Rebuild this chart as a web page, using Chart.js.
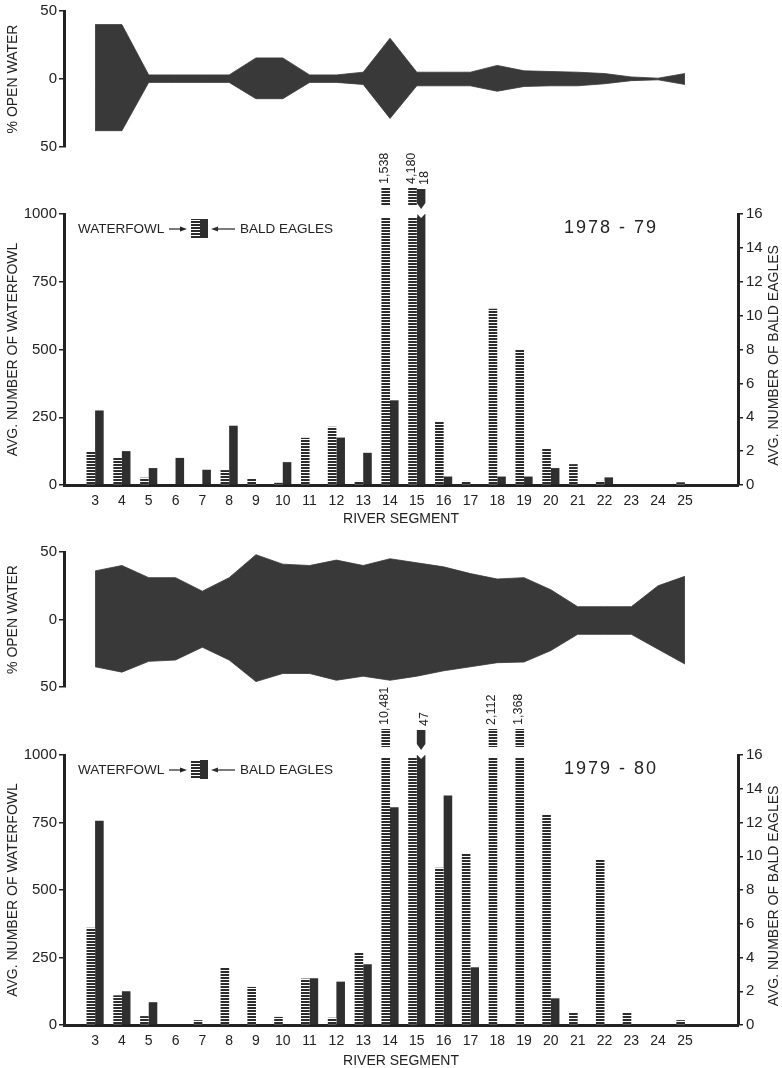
<!DOCTYPE html>
<html>
<head>
<meta charset="utf-8">
<title>Open water, waterfowl and bald eagles by river segment</title>
<script src="https://cdn.jsdelivr.net/npm/chart.js@4.4.1/dist/chart.umd.min.js"></script>
<style>
  html, body { margin: 0; padding: 0; background: #ffffff; }
  body { width: 782px; height: 1068px; position: relative; overflow: hidden; }
  canvas { position: absolute; left: 0; }
</style>
</head>
<body>
<canvas id="area7879" width="782" height="160" style="top:0px"></canvas>
<canvas id="bars7879" width="782" height="400" style="top:140px"></canvas>
<canvas id="area7980" width="782" height="160" style="top:540px"></canvas>
<canvas id="bars7980" width="782" height="388" style="top:680px"></canvas>
<script>
// ---------------- data ----------------
const segments = [3, 4, 5, 6, 7, 8, 9, 10, 11, 12, 13, 14, 15, 16, 17, 18, 19, 20, 21, 22, 23, 24, 25];

// 1978-79
const openUpper7879 = [40, 40, 3, 3, 3, 3, 15.5, 15.5, 3, 3, 5, 30, 5, 5, 5, 10, 6, 5.5, 5, 4, 1.5, 0.6, 4];
const openLower7879 = [38, 38, 2.5, 2.5, 2.5, 2.5, 14.5, 14.5, 2.5, 2.5, 4, 29, 5, 5, 5, 9, 5.5, 5, 5, 3.5, 1.2, 0.6, 4];
const waterfowl7879 = [125, 102, 27, 0, 0, 55, 25, 8, 174, 215, 15, 1538, 4180, 235, 15, 650, 500, 135, 77, 15, 0, 0, 10];
const eagles7879 = [4.4, 2.0, 1.0, 1.6, 0.9, 3.5, 0, 1.35, 0, 2.8, 1.9, 5.0, 18, 0.5, 0, 0.5, 0.5, 1.0, 0, 0.45, 0, 0, 0];

// 1979-80
const openUpper7980 = [36, 40, 31, 31, 21, 31, 48, 41, 40, 44, 40, 45, 42, 39, 34, 30, 31, 22, 9.5, 9.5, 9.5, 25, 32];
const openLower7980 = [35, 39, 31, 30, 20.5, 30, 46, 40, 40, 45, 42, 45, 42, 38, 35, 32, 31.5, 23, 11, 11, 11, 22, 33];
const waterfowl7980 = [360, 110, 33, 0, 18, 212, 141, 30, 172, 27, 270, 10481, 990, 582, 637, 2112, 1368, 778, 47, 613, 45, 0, 18];
const eagles7980 = [12.1, 2.0, 1.35, 0, 0, 0, 0, 0, 2.77, 2.57, 3.6, 12.9, 47, 13.6, 3.42, 0, 0, 1.58, 0, 0, 0, 0, 0];

// tick values
const openWaterTicks = [-50, 0, 50];
const waterfowlTicks = [0, 250, 500, 750, 1000];
const eagleTicks = [0, 2, 4, 6, 8, 10, 12, 14, 16];

// ---------------- style ----------------
const FONT = '"Liberation Sans", Arimo, Arial, Helvetica, sans-serif';
const INK = '#222222';
const BAR = '#2f2f2f';
const AREA = '#393939';
const WF_MAX = 1000;
const EG_MAX = 16;
const X_MIN = 1.84;
const X_MAX = 26.98;

function makeHatch() {
  const c = document.createElement('canvas');
  c.width = 4; c.height = 3;
  const g = c.getContext('2d');
  g.fillStyle = '#ffffff'; g.fillRect(0, 0, 4, 3);
  g.fillStyle = '#2c2c2c'; g.fillRect(0, 0, 4, 2);
  return g.createPattern(c, 'repeat');
}
const HATCH = makeHatch();

function yAxisTitle(text) {
  return { display: true, text: text, color: INK, font: { family: FONT, size: 14 }, padding: { top: 5, bottom: 0 } };
}

// -------- plugins: broken bars + legend / year / right title --------
const breakPlugin = {
  id: 'breaks',
  afterDatasetsDraw(chart) {
    const { ctx, chartArea } = chart;
    const top = chartArea.top;
    chart.data.datasets.forEach((ds, di) => {
      if (!ds.rawValues) return;
      const meta = chart.getDatasetMeta(di);
      const scale = chart.scales[ds.yAxisID];
      meta.data.forEach((bar, i) => {
        const raw = ds.rawValues[i];
        if (raw <= scale.max) return;
        const w = bar.width;
        const x0 = bar.x - w / 2;
        ctx.save();
        let pieceTop, labelX;
        if (ds.kind === 'waterfowl') {
          ctx.fillStyle = '#ffffff';
          ctx.fillRect(x0 - 0.5, top - 1, w + 1, 4);
          pieceTop = top - 26;
          ctx.fillStyle = HATCH;
          ctx.fillRect(x0, pieceTop, w, 18);
          labelX = bar.x - 1;
        } else {
          ctx.fillStyle = '#ffffff';
          ctx.beginPath();
          ctx.moveTo(x0 - 0.5, top - 1);
          ctx.lineTo(bar.x, top + 4);
          ctx.lineTo(x0 + w + 0.5, top - 1);
          ctx.closePath();
          ctx.fill();
          pieceTop = top - 25;
          ctx.fillStyle = BAR;
          ctx.beginPath();
          ctx.moveTo(x0, pieceTop);
          ctx.lineTo(x0 + w, pieceTop);
          ctx.lineTo(x0 + w, top - 11);
          ctx.lineTo(bar.x, top - 5);
          ctx.lineTo(x0, top - 11);
          ctx.closePath();
          ctx.fill();
          labelX = bar.x + 3;
        }
        ctx.translate(labelX, pieceTop - 4);
        ctx.rotate(-Math.PI / 2);
        ctx.font = '12.5px ' + FONT;
        ctx.fillStyle = INK;
        ctx.textAlign = 'left';
        ctx.textBaseline = 'middle';
        ctx.fillText(raw.toLocaleString('en-US'), 0, 0);
        ctx.restore();
      });
    });
  }
};

const annotPlugin = {
  id: 'annot',
  afterDraw(chart, args, opts) {
    if (!opts || !opts.year) return;
    const { ctx, chartArea: ca } = chart;
    ctx.save();
    ctx.fillStyle = INK;
    ctx.strokeStyle = INK;
    ctx.textBaseline = 'middle';
    ctx.textAlign = 'left';
    const y = ca.top + 15;
    ctx.font = '13.5px ' + FONT;
    ctx.fillText('WATERFOWL', ca.left + 14, y);
    // arrow pointing right
    ctx.lineWidth = 1.2;
    ctx.beginPath(); ctx.moveTo(ca.left + 105, y); ctx.lineTo(ca.left + 118, y); ctx.stroke();
    ctx.beginPath(); ctx.moveTo(ca.left + 123, y); ctx.lineTo(ca.left + 116, y - 2.5); ctx.lineTo(ca.left + 116, y + 2.5); ctx.closePath(); ctx.fill();
    // legend icon
    ctx.fillStyle = HATCH;
    ctx.fillRect(ca.left + 127, ca.top + 5, 9, 19);
    ctx.fillStyle = BAR;
    ctx.fillRect(ca.left + 136, ca.top + 5, 8, 19);
    // arrow pointing left
    ctx.beginPath(); ctx.moveTo(ca.left + 152, y); ctx.lineTo(ca.left + 171, y); ctx.stroke();
    ctx.beginPath(); ctx.moveTo(ca.left + 147, y); ctx.lineTo(ca.left + 154, y - 2.5); ctx.lineTo(ca.left + 154, y + 2.5); ctx.closePath(); ctx.fill();
    ctx.fillStyle = INK;
    ctx.fillText('BALD EAGLES', ca.left + 176, y);
    // year
    ctx.font = '18px ' + FONT;
    ctx.letterSpacing = '2px';
    ctx.fillText(opts.year, ca.left + 500, ca.top + 14);
    ctx.letterSpacing = '0px';
    // right axis title (reads bottom to top)
    ctx.font = '14px ' + FONT;
    ctx.translate(774, (ca.top + ca.bottom) / 2 + 6);
    ctx.rotate(-Math.PI / 2);
    ctx.textAlign = 'center';
    ctx.fillText(opts.rightTitle, 0, 0);
    ctx.restore();
  }
};

// ---------------- builders ----------------
function areaChart(id, upper, lower, padTop, padBottom) {
  return new Chart(document.getElementById(id), {
    type: 'line',
    data: {
      labels: segments,
      datasets: [
        { label: '% open water', data: upper, fill: '+1', backgroundColor: AREA, borderColor: AREA,
          borderWidth: 0.8, pointRadius: 0, tension: 0 },
        { label: '% open water (lower)', data: lower.map(v => -v), fill: false, borderColor: AREA,
          borderWidth: 0.8, pointRadius: 0, tension: 0 }
      ]
    },
    options: {
      responsive: false, animation: false, events: [],
      layout: { padding: { top: padTop, bottom: padBottom, left: 0, right: 782 - 738 } },
      plugins: { legend: { display: false }, tooltip: { enabled: false } },
      scales: {
        x: { type: 'linear', min: X_MIN, max: X_MAX, display: false },
        y: {
          min: -50, max: 50,
          afterFit: s => { s.width = 64; },
          afterBuildTicks: s => { s.ticks = openWaterTicks.map(v => ({ value: v })); },
          ticks: { callback: v => String(Math.abs(v)), color: INK, font: { family: FONT, size: 15 }, padding: 2 },
          grid: { drawOnChartArea: false, drawTicks: true, tickLength: 5, color: INK, lineWidth: 1.5 },
          border: { display: true, color: INK, width: 3 },
          title: yAxisTitle('% OPEN WATER')
        }
      }
    }
  });
}

function barChart(id, wf, eg, cfg) {
  return new Chart(document.getElementById(id), {
    type: 'bar',
    data: {
      labels: segments,
      datasets: [
        { label: 'WATERFOWL', data: wf.map(v => Math.min(v, WF_MAX)), rawValues: wf, kind: 'waterfowl',
          yAxisID: 'y', backgroundColor: HATCH, borderWidth: 0, categoryPercentage: 0.64, barPercentage: 1 },
        { label: 'BALD EAGLES', data: eg.map(v => Math.min(v, EG_MAX)), rawValues: eg, kind: 'eagles',
          yAxisID: 'y2', backgroundColor: BAR, borderWidth: 0, categoryPercentage: 0.64, barPercentage: 1 }
      ]
    },
    plugins: [breakPlugin, annotPlugin],
    options: {
      responsive: false, animation: false, events: [],
      layout: { padding: { top: cfg.padTop, bottom: 0, left: 0, right: 0 } },
      plugins: {
        legend: { display: false }, tooltip: { enabled: false },
        annot: { year: cfg.year, rightTitle: 'AVG. NUMBER OF BALD EAGLES' }
      },
      scales: {
        x: {
          type: 'linear', min: X_MIN, max: X_MAX, offset: false,
          afterFit: s => { s.height = cfg.xHeight; },
          afterBuildTicks: s => { s.ticks = segments.map(v => ({ value: v })); },
          ticks: { autoSkip: false, maxRotation: 0, padding: 8, color: INK, font: { family: FONT, size: 14 },
                   callback: v => String(v) },
          grid: { display: false, drawTicks: false, offset: false },
          border: { display: true, color: INK, width: 3 },
          title: { display: true, text: 'RIVER SEGMENT', color: INK, font: { family: FONT, size: 14, lineHeight: 1 },
                   padding: { top: 0, bottom: cfg.titlePad } }
        },
        y: {
          position: 'left', min: 0, max: WF_MAX,
          afterFit: s => { s.width = 64; },
          afterBuildTicks: s => { s.ticks = waterfowlTicks.map(v => ({ value: v })); },
          ticks: { color: INK, font: { family: FONT, size: 15 }, padding: 2, callback: v => String(v) },
          grid: { drawOnChartArea: false, drawTicks: true, tickLength: 5, color: INK, lineWidth: 1.5 },
          border: { display: true, color: INK, width: 3 },
          title: yAxisTitle('AVG. NUMBER OF WATERFOWL')
        },
        y2: {
          position: 'right', min: 0, max: EG_MAX,
          afterFit: s => { s.width = 782 - 738; },
          afterBuildTicks: s => { s.ticks = eagleTicks.map(v => ({ value: v })); },
          ticks: { color: INK, font: { family: FONT, size: 15 }, padding: 3, callback: v => String(v) },
          grid: { drawOnChartArea: false, drawTicks: true, tickLength: 5, color: INK, lineWidth: 1.5 },
          border: { display: true, color: INK, width: 3 }
        }
      }
    }
  });
}

areaChart('area7879', openUpper7879, openLower7879, 11, 13);
barChart('bars7879', waterfowl7879, eagles7879, { padTop: 74, xHeight: 55, titlePad: 13.5, year: '1978 - 79' });
areaChart('area7980', openUpper7980, openLower7980, 12, 13);
barChart('bars7980', waterfowl7980, eagles7980, { padTop: 75, xHeight: 43, titlePad: 0, year: '1979 - 80' });
</script>
</body>
</html>
